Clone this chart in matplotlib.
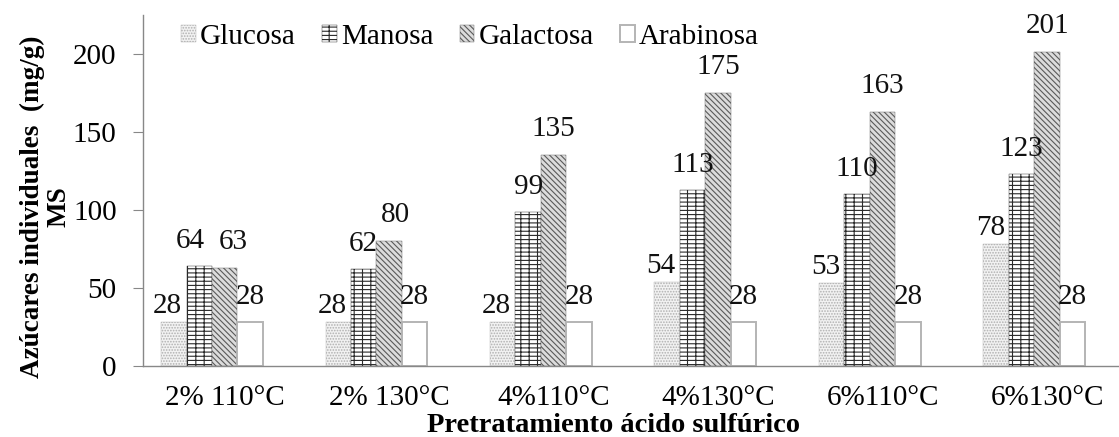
import numpy as np
import matplotlib
matplotlib.use('Agg')
import matplotlib.pyplot as plt

plt.rcParams['font.family'] = ['Liberation Serif', 'DejaVu Serif']
plt.rcParams['hatch.linewidth'] = 0.8

tratamientos = ['2% 110°C', '2% 130°C', '4%110°C', '4%130°C', '6%110°C', '6%130°C']
glucosa = [28, 28, 28, 54, 53, 78]
manosa = [64, 62, 99, 113, 110, 123]
galactosa = [63, 80, 135, 175, 163, 201]
arabinosa = [28, 28, 28, 28, 28, 28]

# estilo de relleno y desplazamiento de la etiqueta (px) por azúcar
series = [
    ('Glucosa', glucosa, dict(color='#f2f2f2', edgecolor='#b0b0b0', hatch='......'), (-6, 16)),
    ('Manosa', manosa, dict(color='white', edgecolor='#2a2a2a', hatch='----||'), (0, 25)),
    ('Galactosa', galactosa, dict(color='#dcdcdc', edgecolor='#5a5a5a', hatch='\\\\\\\\\\\\'), (0, 26)),
    ('Arabinosa', arabinosa, dict(color='white', edgecolor='#b4b4b4'), (0, 25)),
]
# etiquetas que se solapan en el primer grupo
ajuste = {('Manosa', 0): -9, ('Galactosa', 0): 8, ('Galactosa', 1): 6}

fig = plt.figure(figsize=(11.19, 4.37), dpi=100)
ax = fig.add_axes([143 / 1119, 71 / 437, 976 / 1119, 351 / 437])

x = np.arange(len(tratamientos))
ancho = 0.155
centro = x - 0.079

for j, (nombre, valores, estilo, (dx, dy)) in enumerate(series):
    pos = centro + (j - 1.5) * ancho
    lw = 1.4 if nombre == 'Arabinosa' else 0.3
    bars = ax.bar(pos, valores, ancho, label=nombre, linewidth=lw, **estilo)
    for i, (b, v) in enumerate(zip(bars, valores)):
        ax.annotate(str(v), (b.get_x() + b.get_width() / 2, v),
                    xytext=(dx + ajuste.get((nombre, i), 0), dy),
                    textcoords='offset pixels',
                    ha='center', va='center', fontsize=21, color='#111111')

ax.set_xlim(-0.4985, 5.435)
ax.set_ylim(0, 225)
ax.set_yticks([0, 50, 100, 150, 200])
ax.set_xticks(x)
ax.set_xticklabels(tratamientos)
ax.tick_params(axis='y', labelsize=21, length=7, color='#888888', pad=12)
ax.tick_params(axis='x', labelsize=21, length=0, pad=14)

for s in ['top', 'right']:
    ax.spines[s].set_visible(False)
for s in ['left', 'bottom']:
    ax.spines[s].set_color('#888888')
    ax.spines[s].set_linewidth(1.0)

ax.set_ylabel('Azúcares individuales  (mg/g)\nMS', fontsize=19.5, fontweight='bold',
              linespacing=1.1)
ax.yaxis.set_label_coords(-0.073, 0.453)
ax.set_xlabel('Pretratamiento ácido sulfúrico', fontsize=20.5, fontweight='bold')
ax.xaxis.set_label_coords(0.482, -0.135)

ax.legend(loc='upper left', bbox_to_anchor=(0.012, 1.05), ncol=4, frameon=False,
          fontsize=21, handlelength=0.5, handleheight=0.5, handletextpad=0.15,
          columnspacing=0.9)

fig.savefig('out.png', dpi=100)
